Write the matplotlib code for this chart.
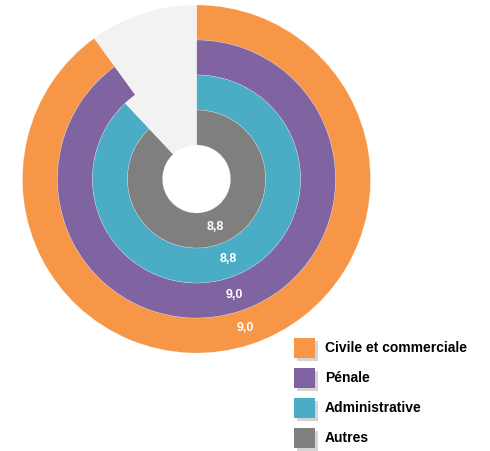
import matplotlib
matplotlib.use("Agg")
import matplotlib.pyplot as plt
from matplotlib.patches import Rectangle
import matplotlib.patheffects as pe

plt.rcParams['font.family'] = ['Liberation Sans', 'DejaVu Sans']

categories = ['Civile et commerciale', 'Pénale', 'Administrative', 'Autres']
values = [9.0, 9.0, 8.8, 8.8]
scale_max = 10.0
colors = ['#F79646', '#8064A2', '#4BACC6', '#7F7F7F']
rest_color = '#F2F2F2'

fig = plt.figure(figsize=(4.9, 4.51), dpi=100)
ax = fig.add_axes([0, 0, 1, 1])

# pie geometry in pixels
cx, cy = 196.5, 451 - 179
outer = 174
ring_w = 35

for i, (v, c) in enumerate(zip(values, colors)):
    r = outer - i * ring_w
    fmt = lambda p, v=v: ('%.1f' % v).replace('.', ',') if abs(p - v * 10) < 0.01 else ''
    ax.pie([v, scale_max - v], radius=r, center=(cx, cy), startangle=90,
           counterclock=False, colors=[c, rest_color],
           wedgeprops=dict(width=ring_w, edgecolor=(1, 1, 1, 0.45), linewidth=0.3),
           autopct=fmt, pctdistance=(r - ring_w / 2) / r,
           textprops=dict(color='white', fontsize=9, fontweight='bold'))

# legend
lx, ly = 294, 451 - 358
for i, (name, c) in enumerate(zip(categories, colors)):
    y = ly - i * 30
    rect = Rectangle((lx, y), 21, 20, facecolor=c, edgecolor='none',
                     path_effects=[pe.SimplePatchShadow(offset=(2, -2), shadow_rgbFace='#aaaaaa', alpha=0.5),
                                   pe.Normal()])
    ax.add_patch(rect)
    ax.text(lx + 31, y + 10, name, fontsize=10, fontweight='bold', color='black', va='center', ha='left')

ax.set_xlim(0, 490)
ax.set_ylim(0, 451)
ax.set_aspect('equal')
ax.axis('off')

fig.savefig('out.png', dpi=100)
